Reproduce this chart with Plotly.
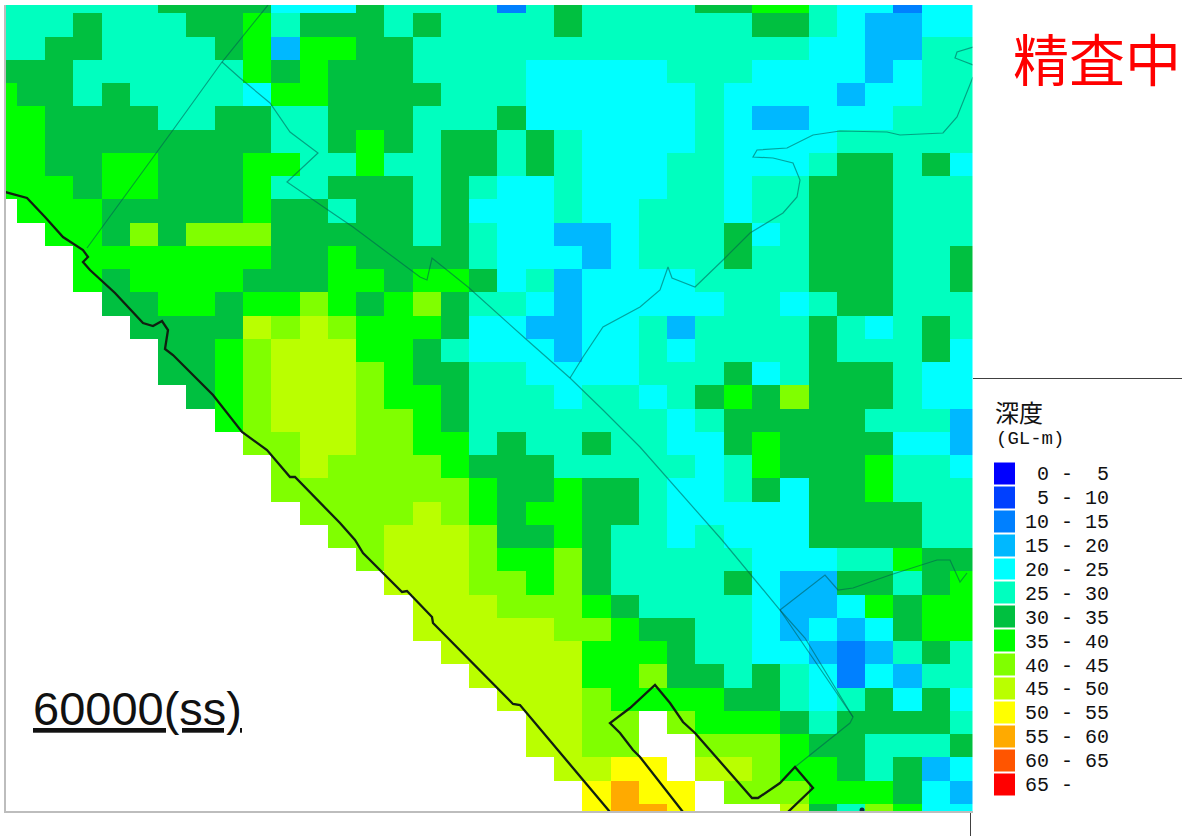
import plotly.graph_objects as go

# Depth class per cell, one hex digit per column ('.' = no data). Class i covers 5*i .. 5*i+5 m.
# Spaces only separate runs of equal classes for readability.
row_00 = "555555 6666 444 6 5555 2 5 6 5555 66 77 5 44 2 44"
row_01 = "555 6 555 66 7 5 666 5 6 5555 6 555555 66 5 4 33 44"
row_02 = "55 66 5555 6 7 3 7 7 66 55555555555555 44 33 55"
row_03 = "666 555555 7 6 7 666 5555 44444 555 4444 3 4 55"
row_04 = "7 66 5 6 5555 4 77 6666 555 444444 5 4444 3 44 55"
row_05 = "77 6666 55 66 55 666 555 6 444444 5 4 33 444 555"
row_06 = "77 66666666 55 6 7 6 5 66 5 6 5 4444 5 4444 55555"
row_07 = "77 66 77 666 77 55 7 55 66 5 6 5 444 55 444 5 66 5 6 4"
row_08 = "777 6 77 666 7 55 666 5 6 5 44 5 444 55 4 55 666 555"
row_09 = ". 777 66666 7 66 5 66 5 6 444 5 44 555 4 55 666 555"
row_10 = ".. 77 6 8 6 888 66666 5 6 5 44 33 4 555 6 4 5 666 555"
row_11 = "... 7777777 66 7 6666 5 444 3 4 555 6 55 666 55 6"
row_12 = "... 7 6 7777 666 77 6 77 6 4 5 3 4444 5555 666 55 6"
row_13 = ".... 66 77 6 77 8 7 6 7 8 6 55 4 3 44444 55 4 5 66 555"
row_14 = "..... 6666 9 8 9 8 777 6 44 33 44 5 3 5555 6 5 4 5 6 5"
row_15 = "...... 66 7 8 999 77 6 5 444 3 44 5 4 5555 6 555 6 4"
row_16 = "...... 66 7 8 999 8 7 66 55 4444 555 6 4 5 666 5 44"
row_17 = "....... 6 7 8 999 8 77 6 555 4 55 4 5 6 7 6 8 666 5 44"
row_18 = "........ 7 8 999 88 7 6 5555555 4 5 66666 555 3"
row_19 = "......... 88 99 88 77 5 6 55 6 55 44 6 7 6666 44 3"
row_20 = ".......... 8 9 8888 7 666 55555 4 5 7 666 7 55 4"
row_21 = ".......... 8888888 7 66 7 66 5 44 5 6 4 66 7 555"
row_22 = "........... 8 888 9 8 7 6 77 66 5 44444 6666 55"
row_23 = "............ 88 999 8 66 7 6 55 4 5 444 6666 55"
row_24 = "............. 8 999 8 77 8 6 55555 444 55 7 66"
row_25 = ".............. 999 88 7 8 6 5555 6 4 33 66 5 6 7"
row_26 = "............... 999 888 7 6 5555 4 33 4 7 6 77"
row_27 = "............... 99999 88 7 66 55 4 3 4 3 4 6 77"
row_28 = "................ 99999 777 6 55 44 3 2 3 5 6 5"
row_29 = "................. 9999 77 8 66 5 6 5 4 2 4 3 55"
row_30 = ".................. 999 8 77 77 66 5 4 5 6 4 6 4"
row_31 = "................... 99 88 . 8 777 6 5 6666 5"
row_32 = "................... 99 88 .. 888 7 66 555 6"
row_33 = ".................... 99 AA . 99 8 77 6 5 6 3 4"
row_34 = "..................... A B AA . 88 8 777 6 4 3"
row_35 = "..................... A BB A ... 9 6 5 8 7 44"

grid_rows = [row_00, row_01, row_02, row_03, row_04, row_05, row_06, row_07, row_08,
             row_09, row_10, row_11, row_12, row_13, row_14, row_15, row_16, row_17,
             row_18, row_19, row_20, row_21, row_22, row_23, row_24, row_25, row_26,
             row_27, row_28, row_29, row_30, row_31, row_32, row_33, row_34, row_35]
grid_rows = [r.replace(" ", "") for r in grid_rows]

class_labels = ["\u00a00 -\u00a0\u00a05", "\u00a05 - 10", "10 - 15", "15 - 20", "20 - 25", "25 - 30", "30 - 35",
                "35 - 40", "40 - 45", "45 - 50", "50 - 55", "55 - 60", "60 - 65", "65 -\u00a0\u00a0\u00a0"]
class_colors = ["#0000FF", "#0040FF", "#0080FF", "#00B8FF", "#00FFFF", "#00FFBF", "#00C040",
                "#00FF00", "#80FF00", "#BAFF00", "#FFFF00", "#FFAA00", "#FF5500", "#FF0000"]

# Boundary traces, in map units
coast_x = [5, 27, 45, 63, 83, 88, 83, 90, 115, 143, 153, 162, 168, 165, 173, 213, 242, 267, 290, 295, 340, 355, 363, 402, 407, 432, 433, 513, 520, 610]
coast_y = [192, 198, 217, 237, 250, 257, 262, 270, 293, 323, 326, 321, 330, 349, 355, 395, 432, 450, 477, 477, 523, 540, 553, 592, 591, 617, 623, 704, 705, 812]
port_x = [683, 640, 633, 620, 610, 630, 655, 670, 683, 695, 752, 758, 780, 795, 813, 788]
port_y = [812, 757, 750, 733, 723, 708, 685, 703, 722, 733, 798, 798, 783, 767, 788, 812]
ward_a_x = [268, 222, 173, 87]
ward_a_y = [5, 62, 130, 248]
ward_b_x = [222, 240, 270, 290, 318, 287, 328, 353, 420, 427, 432, 468, 527, 570, 603, 640, 722, 780, 853, 850, 795]
ward_b_y = [62, 78, 103, 132, 153, 182, 210, 227, 277, 280, 258, 287, 340, 378, 410, 447, 540, 610, 717, 723, 767]
river_x = [570, 583, 603, 620, 640, 660, 668, 672, 695, 723, 750, 783, 797, 800, 793, 773, 753, 757, 787, 813, 840, 887, 900, 943, 957, 973]
river_y = [378, 357, 327, 318, 307, 290, 267, 278, 287, 260, 233, 213, 197, 180, 163, 158, 157, 150, 148, 135, 131, 132, 135, 133, 117, 77]
inlet_x = [973, 955, 957, 973]
inlet_y = [65, 58, 52, 47]
ward_c_x = [780, 825, 838, 853, 890, 937, 950, 960, 967]
ward_c_y = [610, 575, 590, 588, 575, 560, 560, 582, 573]
ward_d_x = [780, 805, 853]
ward_d_y = [610, 638, 717]
spot_x = [862]
spot_y = [810]

W, H = 1182, 836
MAP_L, MAP_R, MAP_T, MAP_B = 6, 972.5, 5, 811
FIRST_X, CELL_W = 16.7, 28.28
FIRST_Y, CELL_H = 13.3, 23.25

n_cols = len(grid_rows[0])
n_rows = len(grid_rows)
x_edges = [MAP_L] + [FIRST_X + CELL_W * k for k in range(n_cols - 1)] + [MAP_R]
y_edges = [MAP_T] + [FIRST_Y + CELL_H * k for k in range(n_rows - 1)] + [MAP_B]
z = [[None if ch == "." else 2.5 + 5 * int(ch, 16) for ch in row] for row in grid_rows]

n = len(class_colors)
scale = []
for i, c in enumerate(class_colors):
    scale += [[i / n, c], [(i + 1) / n, c]]

fig = go.Figure()
fig.add_trace(go.Heatmap(x=x_edges, y=y_edges, z=z, colorscale=scale, zmin=0, zmax=5 * n,
                         showscale=False, xaxis="x", yaxis="y", hoverinfo="skip"))

for xs, ys in [(ward_a_x, ward_a_y), (ward_b_x, ward_b_y), (river_x, river_y), (inlet_x, inlet_y),
               (ward_c_x, ward_c_y), (ward_d_x, ward_d_y)]:
    fig.add_trace(go.Scatter(x=xs, y=ys, mode="lines", line=dict(color="rgba(0,90,80,0.55)", width=1.2),
                             showlegend=False, hoverinfo="skip", xaxis="x", yaxis="y"))
for xs, ys in [(coast_x, coast_y), (port_x, port_y)]:
    fig.add_trace(go.Scatter(x=xs, y=ys, mode="lines", line=dict(color="#102010", width=2.3),
                             showlegend=False, hoverinfo="skip", xaxis="x", yaxis="y"))
fig.add_trace(go.Scatter(x=spot_x, y=spot_y, mode="markers", marker=dict(color="#103040", size=5),
                         showlegend=False, hoverinfo="skip", xaxis="x", yaxis="y"))

# Legend as a second, one-column heatmap with its own axes
depths = [2.5 + 5 * i for i in range(n)]
fig.add_trace(go.Heatmap(x=[0], y=list(range(n)), z=[[d] for d in depths], colorscale=scale,
                         zmin=0, zmax=5 * n, showscale=False, ygap=2, xaxis="x2", yaxis="y2",
                         hoverinfo="skip"))

MONO = "Liberation Mono"
CJK = "Noto Sans CJK JP"
def ax(px): return px / W
def ay(py): return 1 - py / H

fig.update_layout(
    width=W, height=H, autosize=False,
    margin=dict(l=0, r=0, t=0, b=0),
    paper_bgcolor="white", plot_bgcolor="white",
    showlegend=False,
    xaxis=dict(domain=[ax(MAP_L), ax(MAP_R)], range=[MAP_L, MAP_R], showticklabels=False, ticks="",
               showgrid=False, zeroline=False, showline=True, linecolor="#bdbdbd", linewidth=2,
               anchor="y"),
    yaxis=dict(domain=[ay(MAP_B), ay(MAP_T)], range=[MAP_B, MAP_T], showticklabels=False, ticks="",
               showgrid=False, zeroline=False, showline=True, linecolor="#bdbdbd", linewidth=2,
               anchor="x"),
    xaxis2=dict(domain=[ax(994), ax(1015)], range=[-0.5, 0.5], showticklabels=False, ticks="",
                showgrid=False, zeroline=False, anchor="y2"),
    yaxis2=dict(domain=[ay(796), ay(461.5)], range=[n - 0.5, -0.5], side="right", anchor="x2",
                tickmode="array", tickvals=list(range(n)), ticktext=class_labels, ticks="",
                ticklabelstandoff=9, showgrid=False, zeroline=False,
                tickfont=dict(family=MONO, size=20, color="#111111")),
    shapes=[
        dict(type="line", xref="paper", yref="paper", x0=ax(973), x1=ax(1182), y0=ay(378.5), y1=ay(378.5),
             line=dict(color="#404040", width=1)),
        dict(type="line", xref="paper", yref="paper", x0=ax(970.5), x1=ax(970.5), y0=ay(813), y1=ay(836),
             line=dict(color="#404040", width=1)),
    ],
    annotations=[
        dict(text="精査中", xref="paper", yref="paper", x=ax(1011), y=ay(57), xanchor="left", yanchor="middle",
             showarrow=False, font=dict(family=CJK, size=56, color="#FF0000")),
        dict(text="深度", xref="paper", yref="paper", x=ax(993), y=ay(411.5), xanchor="left", yanchor="middle",
             showarrow=False, font=dict(family=CJK, size=24, color="#111111")),
        dict(text="(GL-m)", xref="paper", yref="paper", x=ax(994), y=ay(438.5), xanchor="left", yanchor="middle",
             showarrow=False, font=dict(family=MONO, size=19, color="#111111")),
        dict(text="<u>60000(ss)</u>", xref="paper", yref="paper", x=ax(31), y=ay(708), xanchor="left", yanchor="middle",
             showarrow=False, font=dict(family="Liberation Sans", size=47, color="#111111")),
    ],
)

fig.write_html("out.html", config=dict(displayModeBar=False),
               post_script="document.body.style.margin='0';")
